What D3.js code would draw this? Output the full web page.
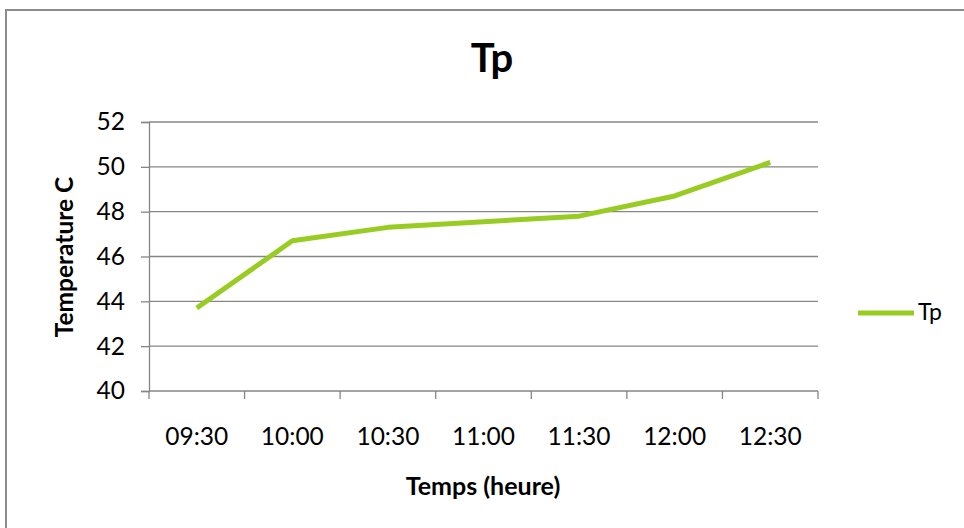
<!DOCTYPE html>
<html><head><meta charset="utf-8">
<script src="https://cdn.jsdelivr.net/npm/d3@7"></script>
<style>body{margin:0;background:#fff;} svg{display:block;font-family:Lato,"Open Sans",sans-serif;}</style>
</head><body><svg id="c" width="964" height="528"></svg>
<script>
const categories = ["09:30","10:00","10:30","11:00","11:30","12:00","12:30"];
const tpValues = [43.7, 46.7, 47.3, 47.55, 47.8, 48.7, 50.2];
const yTicks = [40,42,44,46,48,50,52];
const seriesName = "Tp";

const svg = d3.select("#c");
svg.append("rect").attr("x",6).attr("y",10).attr("width",970).attr("height",530)
  .attr("fill","none").attr("stroke","#8c8c8c").attr("stroke-width",2);

const x = d3.scaleBand().domain(categories).range([149,818]);
const y = d3.scaleLinear().domain([40,52]).range([391,122]);

// gridlines
svg.append("g").selectAll("line").data(yTicks.slice(1)).join("line")
  .attr("x1",149).attr("x2",818).attr("y1",d=>y(d)).attr("y2",d=>y(d))
  .attr("stroke","#868686").attr("stroke-width",1.3);

const yAxis = svg.append("g").attr("transform","translate(149,0)")
  .call(d3.axisLeft(y).tickValues(yTicks).tickSize(8).tickPadding(16).tickFormat(d3.format("d")));
yAxis.select(".domain").attr("stroke","#868686").attr("stroke-width",1.3);
yAxis.selectAll(".tick line").attr("stroke","#868686").attr("stroke-width",1.3);
yAxis.selectAll("text").attr("font-size",24.5).attr("fill","#000").attr("font-family","Lato,'Open Sans',sans-serif");

const bounds = [...categories.map(c=>x(c)), 818];
const xg = svg.append("g");
xg.append("line").attr("x1",149).attr("x2",818).attr("y1",391).attr("y2",391).attr("stroke","#868686").attr("stroke-width",1.3);
xg.selectAll("line.t").data(bounds).join("line").attr("class","t")
  .attr("x1",d=>d).attr("x2",d=>d).attr("y1",391).attr("y2",399).attr("stroke","#868686").attr("stroke-width",1.3);
xg.selectAll("text").data(categories).join("text")
  .attr("x",d=>x(d)+x.bandwidth()/2).attr("y",445).attr("text-anchor","middle")
  .attr("font-size",24.5).attr("fill","#000").text(d=>d);

const line = d3.line().x((d,i)=>x(categories[i])+x.bandwidth()/2).y(d=>y(d));
svg.append("path").datum(tpValues).attr("d",line).attr("fill","none")
  .attr("stroke","#99cc22").attr("stroke-width",5).attr("stroke-linejoin","round");

svg.append("text").attr("x",492).attr("y",72).attr("text-anchor","middle")
  .attr("font-size",40).attr("font-weight","bold").text(seriesName);
svg.append("text").attr("transform","translate(73,257) rotate(-90)").attr("text-anchor","middle")
  .attr("font-size",24.5).attr("font-weight","bold").text("Temperature C");
svg.append("text").attr("x",483).attr("y",495).attr("text-anchor","middle")
  .attr("font-size",25).attr("font-weight","bold").text("Temps (heure)");

svg.append("line").attr("x1",858).attr("x2",914).attr("y1",313).attr("y2",313)
  .attr("stroke","#99cc22").attr("stroke-width",5);
svg.append("text").attr("x",918).attr("y",320).attr("font-size",23).text(seriesName);
</script></body></html>
